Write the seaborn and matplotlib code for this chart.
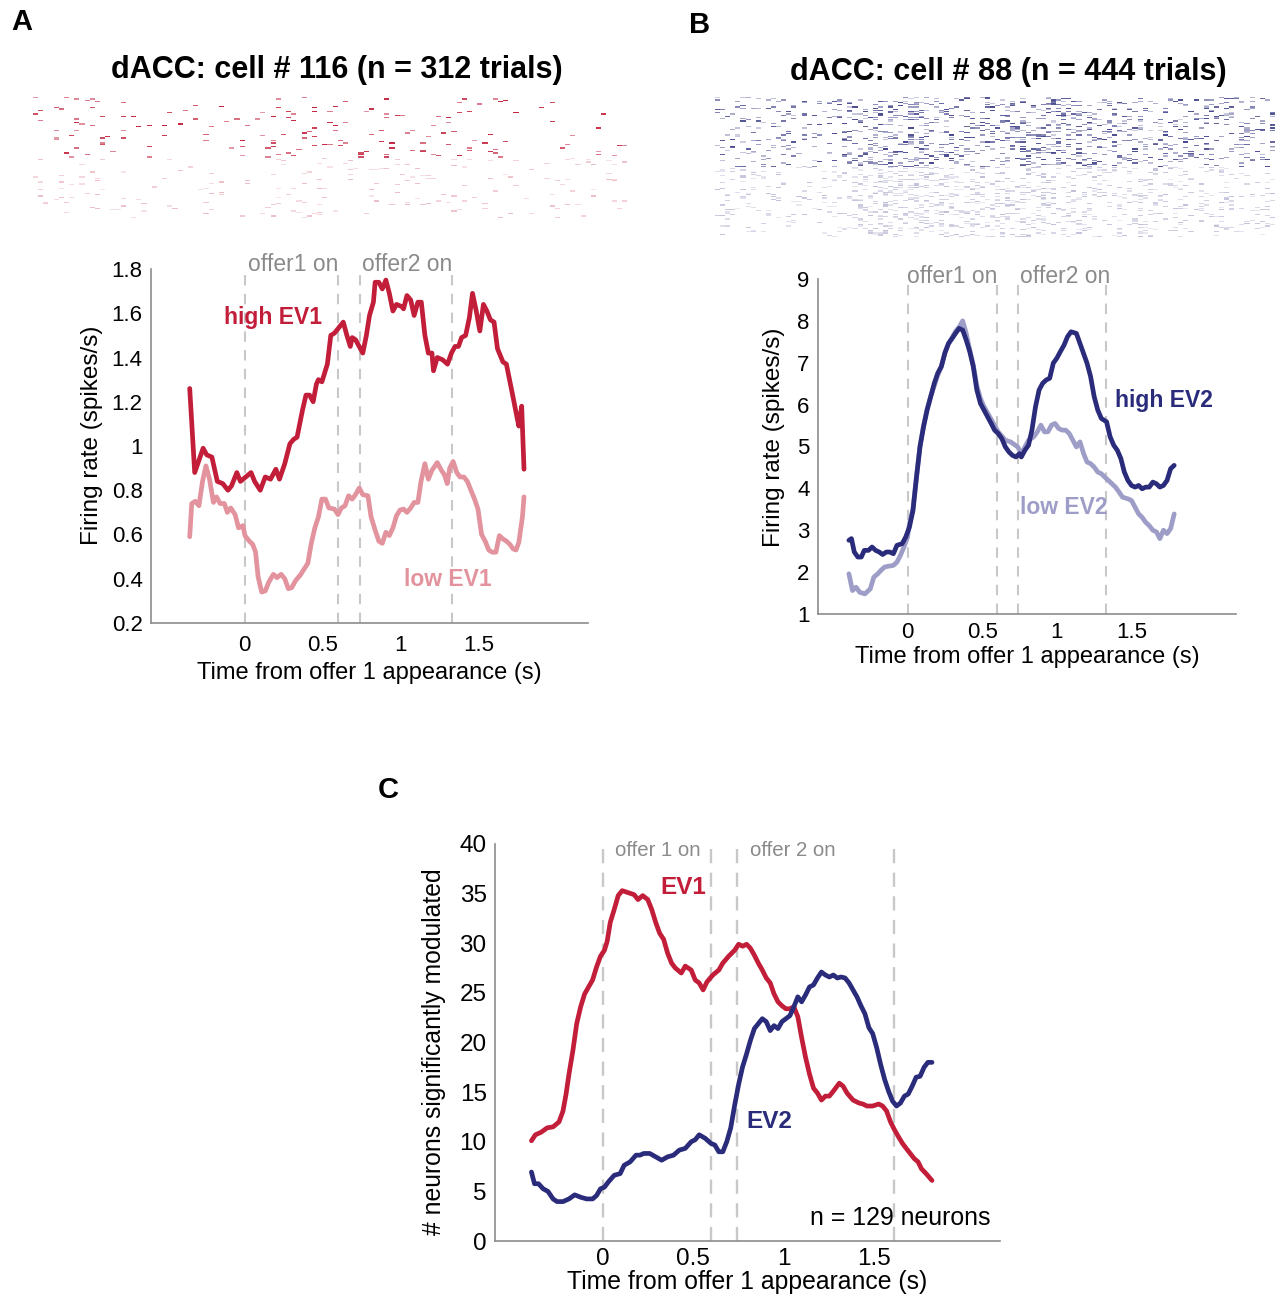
import numpy as np
import matplotlib
matplotlib.use("Agg")
import matplotlib.pyplot as plt
from matplotlib.colors import LinearSegmentedColormap
import seaborn as sns

sns.set_style("white")
plt.rcParams["font.family"] = ["Liberation Sans", "DejaVu Sans"]
plt.rcParams["text.color"] = "black"
plt.rcParams["axes.labelcolor"] = "black"
plt.rcParams["xtick.labelcolor"] = "black"
plt.rcParams["ytick.labelcolor"] = "black"

# ---------------- data ----------------
# panel A: dACC cell 116, firing rate (spikes/s)
a_high_t = [-0.352, -0.32, -0.266, -0.243, -0.21, -0.175, -0.14, -0.107, -0.084, -0.05, -0.027, 0.007,
            0.041, 0.064, 0.10, 0.132, 0.166, 0.2, 0.223, 0.257, 0.29, 0.314, 0.336, 0.37, 0.393, 0.416,
            0.439, 0.46, 0.473, 0.495, 0.53, 0.552, 0.575, 0.598, 0.632, 0.655, 0.677, 0.689, 0.711, 0.734,
            0.757, 0.78, 0.80, 0.825, 0.836, 0.86, 0.882, 0.905, 0.927, 0.95, 0.973, 1.007, 1.018, 1.04,
            1.064, 1.086, 1.11, 1.132, 1.155, 1.177, 1.2, 1.21, 1.234, 1.268, 1.30, 1.325, 1.348, 1.37,
            1.39, 1.416, 1.44, 1.46, 1.484, 1.507, 1.53, 1.552, 1.575, 1.598, 1.62, 1.655, 1.677, 1.70,
            1.72, 1.745, 1.757, 1.775, 1.79]
a_high_v = [1.26, 0.88, 0.99, 0.96, 0.95, 0.84, 0.83, 0.80, 0.82, 0.88, 0.84, 0.86,
            0.88, 0.84, 0.80, 0.86, 0.85, 0.895, 0.85, 0.92, 1.01, 1.03, 1.04, 1.16, 1.23, 1.23,
            1.20, 1.28, 1.30, 1.29, 1.37, 1.50, 1.51, 1.53, 1.56, 1.50, 1.45, 1.49, 1.48, 1.45,
            1.42, 1.50, 1.59, 1.65, 1.74, 1.74, 1.71, 1.75, 1.69, 1.61, 1.64, 1.63, 1.62, 1.68,
            1.66, 1.59, 1.65, 1.65, 1.50, 1.42, 1.42, 1.34, 1.40, 1.39, 1.37, 1.42, 1.45, 1.45,
            1.49, 1.50, 1.58, 1.69, 1.61, 1.52, 1.64, 1.61, 1.57, 1.56, 1.44, 1.38, 1.37, 1.29,
            1.22, 1.13, 1.09, 1.18, 0.895]

a_low_t = [-0.352, -0.339, -0.316, -0.293, -0.27, -0.248, -0.225, -0.2, -0.18, -0.157, -0.13, -0.111,
           -0.089, -0.061, -0.039, -0.011, 0.002, 0.03, 0.052, 0.07, 0.086, 0.109, 0.132, 0.155, 0.184,
           0.207, 0.234, 0.257, 0.28, 0.302, 0.325, 0.36, 0.382, 0.405, 0.427, 0.45, 0.473, 0.495, 0.518,
           0.54, 0.575, 0.598, 0.62, 0.643, 0.666, 0.689, 0.71, 0.734, 0.757, 0.79, 0.81, 0.836, 0.86,
           0.882, 0.905, 0.927, 0.95, 0.973, 0.995, 1.018, 1.04, 1.064, 1.086, 1.11, 1.13, 1.155, 1.177,
           1.2, 1.234, 1.261, 1.28, 1.298, 1.314, 1.336, 1.359, 1.38, 1.405, 1.427, 1.45, 1.473, 1.495,
           1.518, 1.541, 1.564, 1.586, 1.61, 1.632, 1.655, 1.677, 1.70, 1.72, 1.739, 1.757, 1.78, 1.79]
a_low_v = [0.59, 0.74, 0.75, 0.73, 0.84, 0.91, 0.85, 0.745, 0.77, 0.74, 0.74, 0.70,
           0.72, 0.69, 0.63, 0.64, 0.595, 0.57, 0.555, 0.52, 0.41, 0.34, 0.345, 0.385, 0.42,
           0.405, 0.42, 0.40, 0.355, 0.36, 0.39, 0.42, 0.445, 0.47, 0.56, 0.63, 0.68, 0.76, 0.76,
           0.72, 0.715, 0.69, 0.72, 0.73, 0.775, 0.76, 0.78, 0.81, 0.78, 0.775, 0.68, 0.62, 0.57,
           0.56, 0.61, 0.595, 0.63, 0.685, 0.71, 0.715, 0.70, 0.72, 0.745, 0.745, 0.84, 0.92, 0.85,
           0.89, 0.925, 0.89, 0.87, 0.83, 0.90, 0.93, 0.88, 0.86, 0.86, 0.84, 0.80, 0.76, 0.715,
           0.60, 0.57, 0.53, 0.52, 0.52, 0.595, 0.58, 0.57, 0.555, 0.535, 0.53, 0.565, 0.68, 0.77]

# panel B: dACC cell 88, firing rate (spikes/s)
b_high_t = [-0.393, -0.376, -0.357, -0.333, -0.31, -0.29, -0.262, -0.238, -0.214, -0.19, -0.167, -0.143,
            -0.119, -0.095, -0.071, -0.036, -0.012, 0.012, 0.036, 0.06, 0.083, 0.107, 0.131, 0.155, 0.179,
            0.202, 0.226, 0.25, 0.274, 0.298, 0.321, 0.345, 0.369, 0.393, 0.417, 0.44, 0.464, 0.488, 0.512,
            0.536, 0.56, 0.583, 0.607, 0.631, 0.655, 0.679, 0.702, 0.726, 0.75, 0.762, 0.786, 0.81, 0.833,
            0.857, 0.881, 0.905, 0.929, 0.952, 0.976, 1.0, 1.024, 1.048, 1.071, 1.095, 1.131, 1.155, 1.179,
            1.202, 1.226, 1.25, 1.274, 1.298, 1.333, 1.357, 1.381, 1.405, 1.429, 1.452, 1.476, 1.5, 1.524,
            1.548, 1.571, 1.595, 1.619, 1.643, 1.667, 1.69, 1.714, 1.738, 1.762, 1.786]
b_high_v = [2.76, 2.80, 2.48, 2.36, 2.36, 2.52, 2.52, 2.60, 2.52, 2.48, 2.42, 2.48,
            2.48, 2.44, 2.64, 2.68, 2.84, 3.07, 3.47, 4.27, 4.99, 5.47, 5.87, 6.19, 6.51,
            6.75, 6.91, 7.23, 7.46, 7.58, 7.70, 7.82, 7.78, 7.54, 7.26, 6.91, 6.35, 6.03, 5.87,
            5.71, 5.55, 5.39, 5.31, 5.19, 4.99, 4.87, 4.79, 4.75, 4.83, 4.75, 4.91, 5.03, 5.39,
            5.95, 6.35, 6.51, 6.59, 6.63, 6.99, 7.11, 7.27, 7.42, 7.62, 7.74, 7.70, 7.46, 7.22,
            6.99, 6.67, 6.19, 5.87, 5.67, 5.59, 5.23, 5.03, 4.91, 4.71, 4.39, 4.19, 4.07, 4.03,
            4.07, 3.99, 4.03, 4.03, 4.15, 4.11, 4.03, 4.07, 4.19, 4.47, 4.55]

b_low_t = [-0.393, -0.369, -0.345, -0.321, -0.286, -0.25, -0.226, -0.2, -0.179, -0.155, -0.131, -0.095,
           -0.071, -0.048, -0.024, 0.0, 0.012, 0.036, 0.06, 0.083, 0.107, 0.131, 0.155, 0.179, 0.202,
           0.226, 0.25, 0.274, 0.298, 0.321, 0.345, 0.369, 0.393, 0.417, 0.44, 0.464, 0.488, 0.512,
           0.536, 0.56, 0.583, 0.607, 0.631, 0.655, 0.69, 0.738, 0.762, 0.786, 0.81, 0.845, 0.869,
           0.893, 0.917, 0.94, 0.964, 0.988, 1.012, 1.036, 1.06, 1.083, 1.107, 1.131, 1.155, 1.179,
           1.202, 1.226, 1.25, 1.274, 1.298, 1.321, 1.345, 1.369, 1.393, 1.417, 1.44, 1.476, 1.5,
           1.524, 1.548, 1.571, 1.595, 1.619, 1.643, 1.667, 1.69, 1.714, 1.738, 1.762, 1.786]
b_low_v = [1.96, 1.56, 1.64, 1.52, 1.48, 1.60, 1.88, 1.96, 2.04, 2.12, 2.14, 2.16,
           2.24, 2.40, 2.60, 2.84, 3.15, 3.50, 4.30, 5.00, 5.50, 5.90, 6.20, 6.45, 6.70,
           6.90, 7.25, 7.45, 7.60, 7.75, 7.85, 8.00, 7.70, 7.30, 6.95, 6.45, 6.15, 5.95,
           5.80, 5.65, 5.50, 5.35, 5.25, 5.15, 5.11, 4.99, 4.83, 4.99, 5.15, 5.23, 5.35,
           5.51, 5.35, 5.35, 5.51, 5.55, 5.43, 5.39, 5.39, 5.31, 5.15, 4.99, 5.11, 4.83,
           4.63, 4.59, 4.51, 4.39, 4.35, 4.27, 4.19, 4.11, 4.03, 3.91, 3.79, 3.75, 3.71,
           3.55, 3.39, 3.31, 3.19, 3.11, 3.00, 2.96, 2.80, 3.00, 2.92, 3.04, 3.39]

# panel C: number of neurons significantly modulated
c_ev1_t = [-0.398, -0.376, -0.344, -0.311, -0.278, -0.245, -0.223, -0.206, -0.19, -0.168, -0.147, -0.125,
           -0.103, -0.081, -0.059, -0.037, -0.015, 0.007, 0.022, 0.039, 0.061, 0.083, 0.105, 0.138, 0.171,
           0.193, 0.219, 0.247, 0.269, 0.291, 0.313, 0.335, 0.357, 0.379, 0.40, 0.433, 0.455, 0.488, 0.51,
           0.532, 0.554, 0.575, 0.608, 0.641, 0.663, 0.696, 0.729, 0.751, 0.773, 0.795, 0.816, 0.838, 0.86,
           0.882, 0.904, 0.926, 0.947, 0.969, 0.991, 1.013, 1.035, 1.057, 1.079, 1.10, 1.122, 1.144, 1.166,
           1.188, 1.21, 1.232, 1.254, 1.276, 1.309, 1.33, 1.352, 1.385, 1.418, 1.44, 1.462, 1.494, 1.527,
           1.549, 1.571, 1.593, 1.615, 1.637, 1.659, 1.68, 1.702, 1.724, 1.746, 1.764, 1.79, 1.823]
c_ev1_v = [10.1, 10.7, 10.96, 11.4, 11.5, 12.0, 13.1, 14.8, 16.8, 19.2, 21.9, 23.6,
           24.9, 25.6, 26.3, 27.6, 28.7, 29.3, 30.2, 32.1, 33.4, 34.8, 35.3, 35.1, 34.9,
           34.4, 34.8, 34.4, 33.4, 32.1, 31.0, 30.4, 29.0, 28.0, 27.5, 27.0, 27.7, 27.3, 26.3,
           26.0, 25.3, 26.1, 26.8, 27.3, 28.0, 28.7, 29.3, 29.9, 29.7, 29.9, 29.5, 28.8, 28.0,
           27.3, 26.5, 26.0, 24.9, 24.1, 23.7, 23.4, 23.4, 23.6, 22.6, 20.5, 18.5, 16.8, 15.4,
           14.9, 14.2, 14.6, 14.6, 15.1, 15.9, 15.6, 14.9, 14.2, 13.9, 13.8, 13.6, 13.6, 13.8,
           13.6, 13.1, 12.0, 11.2, 10.5, 9.84, 9.33, 8.82, 8.31, 7.97, 7.29, 6.79, 6.1]

c_ev2_t = [-0.398, -0.381, -0.359, -0.333, -0.306, -0.278, -0.256, -0.223, -0.19, -0.158, -0.125, -0.092,
           -0.059, -0.037, -0.015, 0.007, 0.028, 0.061, 0.094, 0.116, 0.149, 0.182, 0.204, 0.225, 0.258,
           0.291, 0.324, 0.357, 0.39, 0.422, 0.455, 0.488, 0.51, 0.532, 0.565, 0.597, 0.619, 0.641, 0.663,
           0.685, 0.707, 0.729, 0.751, 0.772, 0.794, 0.816, 0.838, 0.86, 0.882, 0.904, 0.926, 0.947, 0.969,
           0.991, 1.013, 1.035, 1.057, 1.079, 1.10, 1.122, 1.144, 1.166, 1.188, 1.21, 1.232, 1.254, 1.276,
           1.298, 1.319, 1.341, 1.363, 1.385, 1.407, 1.429, 1.451, 1.473, 1.494, 1.516, 1.538, 1.56, 1.582,
           1.604, 1.626, 1.648, 1.67, 1.691, 1.713, 1.735, 1.757, 1.779, 1.80, 1.823]
c_ev2_v = [6.95, 5.77, 5.77, 5.26, 4.99, 4.24, 3.97, 3.97, 4.24, 4.65, 4.41, 4.24,
           4.24, 4.58, 5.26, 5.43, 5.94, 6.62, 6.79, 7.63, 7.97, 8.65, 8.65, 8.82, 8.82,
           8.48, 8.14, 8.48, 8.65, 9.16, 9.33, 10.0, 10.2, 10.7, 10.35, 9.84, 9.67, 8.99, 8.99,
           10.0, 11.4, 13.7, 15.8, 17.5, 18.8, 20.2, 21.4, 21.9, 22.4, 22.1, 21.2, 21.7, 21.4,
           22.1, 22.4, 22.7, 23.6, 24.6, 24.1, 24.8, 25.6, 25.8, 26.5, 27.1, 26.8, 26.6, 26.8,
           26.5, 26.6, 26.5, 26.0, 25.3, 24.6, 23.7, 22.9, 21.5, 20.9, 19.5, 17.8, 16.3, 15.1,
           14.1, 13.6, 13.9, 14.6, 14.8, 15.6, 16.5, 16.6, 17.5, 18.0, 18.0]

# task event times (s): offer1 on/off, offer2 on/off
events_ab = [0, 0.6, 0.74, 1.33]
events_c = [0, 0.6, 0.74, 1.61]

a_yticks = [0.2, 0.4, 0.6, 0.8, 1.0, 1.2, 1.4, 1.6, 1.8]
a_yticklabels = ["0.2", "0.4", "0.6", "0.8", "1", "1.2", "1.4", "1.6", "1.8"]
b_yticks = [1, 2, 3, 4, 5, 6, 7, 8, 9]
c_yticks = [0, 5, 10, 15, 20, 25, 30, 35, 40]
xticks = [0, 0.5, 1, 1.5]
xticklabels = ["0", "0.5", "1", "1.5"]

RED = "#C21E3A"
PINK = "#E2939E"
NAVY = "#2A2C7B"
LAV = "#9D9DC8"
DASH = "#C8C8C8"
AXC = "#8C8C8C"
GREYTXT = "#8A8A8A"
XLABEL = "Time from offer 1 appearance (s)"


def raster(t_hi, v_hi, t_lo, v_lo, rows, bins, k_hi, k_lo, lvl_hi, lvl_lo):
    # spike raster texture, density follows the rate curves read above
    centers = np.linspace(-0.6, 2.2, bins)
    blocks = []
    for b, (t, v, k, lvl) in enumerate([(t_hi, v_hi, k_hi, lvl_hi), (t_lo, v_lo, k_lo, lvl_lo)]):
        p = np.interp(centers, t, v) * k
        i = np.arange(rows)[:, None] + b * rows
        j = np.arange(bins)[None, :]
        u = np.modf(np.abs(np.sin(i * 12.9898 + j * 78.233) * 43758.5453))[0]
        w = np.modf(np.abs(np.sin(i * 39.3468 + j * 11.135) * 24634.6345))[0]
        blocks.append(np.where(u < p, lvl[0] + (lvl[1] - lvl[0]) * w, 0.0))
    return np.vstack(blocks)


def style(ax, ylim, yticks, ylabels, fs_tick, xpad):
    ax.set_xlim(-0.6, 2.2)
    ax.set_ylim(*ylim)
    ax.set_xticks(xticks)
    ax.set_xticklabels(xticklabels)
    ax.set_yticks(yticks)
    ax.set_yticklabels(ylabels)
    sns.despine(ax=ax)
    for s in ["left", "bottom"]:
        ax.spines[s].set_color(AXC)
        ax.spines[s].set_linewidth(1.2)
    ax.tick_params(direction="in", length=4, width=1, color=AXC, labelsize=fs_tick, pad=6)
    ax.tick_params(axis="x", pad=xpad)


fig = plt.figure(figsize=(12.8, 12.99), dpi=100)
W, H = 1280, 1299


def box(l, t, r, b):
    return [l / W, 1 - b / H, (r - l) / W, (b - t) / H]


# ---------- rasters ----------
cm_red = LinearSegmentedColormap.from_list("r", ["#FFFFFF", RED])
cm_blue = LinearSegmentedColormap.from_list("b", ["#FFFFFF", NAVY])

axr = fig.add_axes(box(33, 97, 627, 218))
ma = raster(a_high_t, a_high_v, a_low_t, a_low_v, 48, 115, 0.022, 0.05, (0.45, 1.0), (0.12, 0.3))
sns.heatmap(ma, ax=axr, cmap=cm_red, vmin=0, vmax=1, cbar=False, xticklabels=False, yticklabels=False)

axr2 = fig.add_axes(box(715, 97, 1275, 237))
mb = raster(b_high_t, b_high_v, b_low_t, b_low_v, 60, 110, 0.03, 0.035, (0.22, 0.85), (0.1, 0.3))
sns.heatmap(mb, ax=axr2, cmap=cm_blue, vmin=0, vmax=1, cbar=False, xticklabels=False, yticklabels=False)

# ---------- panel A ----------
ax = fig.add_axes(box(151, 269, 588, 623))
ax.vlines(events_ab, 0.2, 1.78, colors=DASH, linestyles=(0, (5, 4)), linewidth=1.5)
sns.lineplot(x=a_low_t, y=a_low_v, ax=ax, color=PINK, linewidth=3.4, sort=False, estimator=None)
sns.lineplot(x=a_high_t, y=a_high_v, ax=ax, color=RED, linewidth=3.4, sort=False, estimator=None)
style(ax, (0.2, 1.8), a_yticks, a_yticklabels, 16, 9)
ax.set_xlabel(XLABEL, fontsize=17, labelpad=4)
ax.set_ylabel("Firing rate (spikes/s)", fontsize=17.5)
ax.yaxis.set_label_coords(-0.110, 0.531)
ax.text(-0.13, 1.58, "high EV1", color=RED, fontsize=16.5, fontweight="bold", va="center")
ax.text(1.02, 0.395, "low EV1", color=PINK, fontsize=16.5, fontweight="bold", va="center")
ax.text(0.31, 1.82, "offer1 on", color=GREYTXT, fontsize=16.5, ha="center", va="center", clip_on=False)
ax.text(1.04, 1.82, "offer2 on", color=GREYTXT, fontsize=16.5, ha="center", va="center", clip_on=False)

# ---------- panel B ----------
ax = fig.add_axes(box(818, 279, 1236, 614))
ax.vlines(events_ab, 1, 8.9, colors=DASH, linestyles=(0, (5, 4)), linewidth=1.5)
sns.lineplot(x=b_low_t, y=b_low_v, ax=ax, color=LAV, linewidth=3.4, sort=False, estimator=None)
sns.lineplot(x=b_high_t, y=b_high_v, ax=ax, color=NAVY, linewidth=3.4, sort=False, estimator=None)
style(ax, (1, 9), b_yticks, [str(v) for v in b_yticks], 16, 6)
ax.set_xlabel(XLABEL, fontsize=17, labelpad=2)
ax.set_ylabel("Firing rate (spikes/s)", fontsize=17.5)
ax.yaxis.set_label_coords(-0.079, 0.528)
ax.text(1.39, 6.11, "high EV2", color=NAVY, fontsize=16.5, fontweight="bold", va="center")
ax.text(0.755, 3.55, "low EV2", color=LAV, fontsize=16.5, fontweight="bold", va="center")
ax.text(0.30, 9.05, "offer1 on", color=GREYTXT, fontsize=16.5, ha="center", va="center", clip_on=False)
ax.text(1.056, 9.05, "offer2 on", color=GREYTXT, fontsize=16.5, ha="center", va="center", clip_on=False)

# ---------- panel C ----------
ax = fig.add_axes(box(495, 844, 1000, 1241))
ax.vlines(events_c, 0, 39.5, colors=DASH, linestyles=(0, (6, 4)), linewidth=1.7)
sns.lineplot(x=c_ev1_t, y=c_ev1_v, ax=ax, color=RED, linewidth=3.4, sort=False, estimator=None)
sns.lineplot(x=c_ev2_t, y=c_ev2_v, ax=ax, color=NAVY, linewidth=3.4, sort=False, estimator=None)
style(ax, (0, 40), c_yticks, [str(v) for v in c_yticks], 17.5, 5)
ax.set_xlabel(XLABEL, fontsize=17.8, labelpad=0)
ax.set_ylabel("# neurons significantly modulated", fontsize=17.8)
ax.yaxis.set_label_coords(-0.097, 0.476)
ax.text(0.316, 35.6, "EV1", color=RED, fontsize=17.5, fontweight="bold", va="center")
ax.text(0.795, 12.0, "EV2", color=NAVY, fontsize=17.5, fontweight="bold", va="center")
ax.text(0.30, 39.3, "offer 1 on", color=GREYTXT, fontsize=14.7, ha="center", va="center")
ax.text(1.05, 39.3, "offer 2 on", color=GREYTXT, fontsize=14.7, ha="center", va="center")
ax.text(2.15, 2.3, "n = 129 neurons", fontsize=17.9, ha="right", va="center")

# ---------- titles and panel letters ----------
fig.text(337 / W, 1 - 70 / H, "dACC: cell # 116 (n = 312 trials)", fontsize=22, fontweight="bold",
         ha="center", va="center")
fig.text(1008 / W, 1 - 72 / H, "dACC: cell # 88 (n = 444 trials)", fontsize=22, fontweight="bold",
         ha="center", va="center")
fig.text(22 / W, 1 - 22 / H, "A", fontsize=21, fontweight="bold", ha="center", va="center")
fig.text(700 / W, 1 - 25 / H, "B", fontsize=21, fontweight="bold", ha="center", va="center")
fig.text(388 / W, 1 - 790 / H, "C", fontsize=21, fontweight="bold", ha="center", va="center")

fig.savefig("out.png", dpi=100, facecolor="white")
